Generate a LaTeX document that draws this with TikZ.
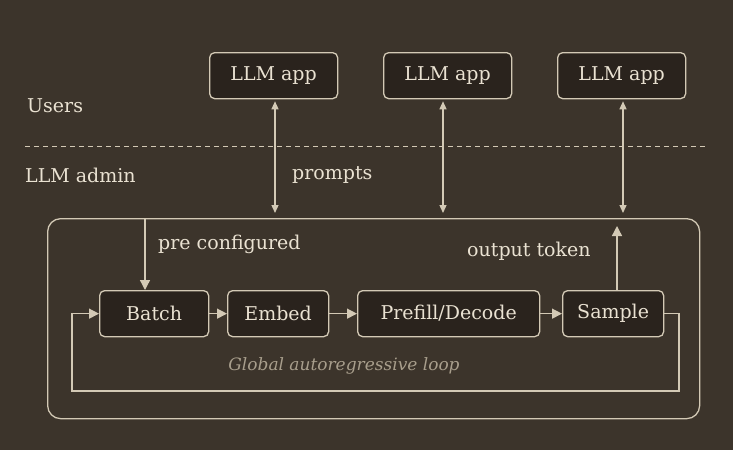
\documentclass[tikz,border=0pt]{standalone}
\usepackage{fontspec}
\setmainfont{DejaVu Serif}
\usetikzlibrary{arrows.meta}
\definecolor{bg}{HTML}{3C342B}
\definecolor{boxf}{HTML}{2A231D}
\definecolor{ln}{HTML}{D3C9B5}
\definecolor{tx}{HTML}{EAE2D2}
\definecolor{gr}{HTML}{A89E8C}
\begin{document}
\begin{tikzpicture}[x=1pt,y=-1pt,
  box/.style={draw=ln,fill=boxf,rounded corners=5pt,line width=1.3pt,text=tx,font=\fontsize{19}{21}\selectfont,anchor=north west,inner sep=0pt},
  lbl/.style={text=tx,font=\fontsize{19}{21}\selectfont,anchor=west,inner sep=0pt},
  arr/.style={draw=ln,line width=1.3pt,-{Triangle[length=10pt,width=10pt]}},
  darr/.style={draw=ln,line width=1.3pt,{Triangle[length=8pt,width=7pt]}-{Triangle[length=8pt,width=7pt]}}]
\fill[bg] (0,0) rectangle (733,450);
\useasboundingbox (0,0) rectangle (733,450);
\foreach \n/\x in {a1/209,a2/383,a3/557}
  \node[box,minimum width=128pt,minimum height=46pt] (\n) at (\x,52) {LLM app};
\node[lbl] (users) at (27,106) {Users};
\coordinate (dl) at (25,146); \coordinate (dr) at (705,146);
\draw[ln,line width=1pt,dash pattern=on 5pt off 4pt] (dl) -- (dr);
\node[lbl] (admin) at (25,175) {LLM admin};
\node[lbl] (prompts) at (292,175) {prompts};
\node[draw=ln,line width=1.3pt,rounded corners=13pt,anchor=north west,minimum width=652pt,minimum height=200pt,inner sep=0pt] (big) at (47,218) {};
\foreach \n/\x in {a1/275,a2/443,a3/623}{
  \coordinate (t\n) at (\x,213);
  \draw[darr] (\n.south -| t\n) ++(0,2) -- (t\n);
}
\node[box,minimum width=109pt,minimum height=46pt] (batch) at (99,290) {Batch};
\node[box,minimum width=101pt,minimum height=46pt] (embed) at (227,290) {Embed};
\node[box,minimum width=182pt,minimum height=46pt] (pd) at (357,290) {Prefill/Decode};
\node[box,minimum width=101pt,minimum height=46pt] (sample) at (562,290) {Sample};
\coordinate (pc) at (145,218);
\draw[arr] (pc) -- (pc |- batch.north);
\node[lbl] (pcl) at (158,244) {pre configured};
\coordinate (ot) at (617,226);
\draw[arr] (sample.north -| ot) -- (ot);
\node[lbl] (otl) at (467,251) {output token};
\draw[arr] (batch) -- (embed);
\draw[arr] (embed) -- (pd);
\draw[arr] (pd) -- (sample);
\coordinate (l1) at (679,391); \coordinate (l2) at (72,391);
\draw[arr] (sample.east) -- (sample.east -| l1) -- (l1) -- (l2) -- (l2 |- batch.west) -- (batch.west);
\node[text=gr,font=\itshape\fontsize{17}{19}\selectfont,inner sep=0pt] (gl) at (344,366) {Global autoregressive loop};
\end{tikzpicture}
\end{document}
